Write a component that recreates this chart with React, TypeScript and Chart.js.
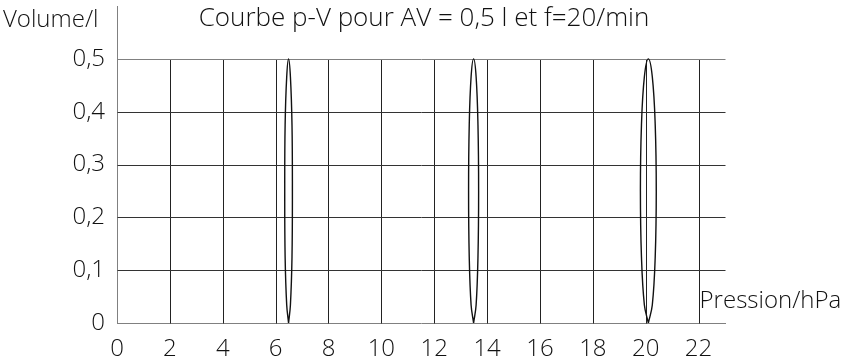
import React, { useEffect, useRef } from "react";
import { Chart, registerables } from "chart.js";

Chart.register(...registerables);

const titleText = "Courbe p-V pour AV = 0,5 l et f=20/min";
const yAxisTitle = "Volume/l";
const xAxisTitle = "Pression/hPa";

const xTicks = [0, 2, 4, 6, 8, 10, 12, 14, 16, 18, 20, 22];
const yTicks = [0, 0.1, 0.2, 0.3, 0.4, 0.5];
const yTickLabels = ["0", "0,1", "0,2", "0,3", "0,4", "0,5"];

const loop1Pressure = [6.49, 6.56, 6.62, 6.635, 6.62, 6.56, 6.49, 6.42, 6.36, 6.345, 6.36, 6.42, 6.49];
const loop1Volume = [0, 0.034, 0.125, 0.25, 0.375, 0.466, 0.5, 0.466, 0.375, 0.25, 0.125, 0.034, 0];

const loop2Pressure = [13.49, 13.585, 13.655, 13.68, 13.655, 13.585, 13.49, 13.395, 13.325, 13.3, 13.325, 13.395, 13.49];
const loop2Volume = [0, 0.034, 0.125, 0.25, 0.375, 0.466, 0.5, 0.466, 0.375, 0.25, 0.125, 0.034, 0];

const loop3Pressure = [20.1, 20.25, 20.36, 20.4, 20.36, 20.25, 20.1, 19.95, 19.84, 19.8, 19.84, 19.95, 20.1];
const loop3Volume = [0, 0.034, 0.125, 0.25, 0.375, 0.466, 0.5, 0.466, 0.375, 0.25, 0.125, 0.034, 0];

const FONT = "'Open Sans', 'DejaVu Sans', sans-serif";

const toPoints = (p: number[], v: number[]) => p.map((x, i) => ({ x, y: v[i] }));

const gridAndText = {
  id: "gridAndText",
  beforeDatasetsDraw(chart: any) {
    const { ctx, scales } = chart;
    const xs = scales.x;
    const ys = scales.y;
    ctx.save();
    ctx.lineWidth = 1;
    const yTop = Math.round(ys.getPixelForValue(0.5)) + 0.5;
    const yBot = Math.round(ys.getPixelForValue(0)) + 0.5;
    const xL = Math.round(xs.getPixelForValue(0)) + 0.5;
    const xR = Math.round(xs.getPixelForValue(23)) + 0.5;
    xTicks.forEach((t) => {
      if (t === 0) return;
      const px = Math.round(xs.getPixelForValue(t)) + 0.5;
      ctx.strokeStyle = "#222";
      ctx.beginPath();
      ctx.moveTo(px, yTop);
      ctx.lineTo(px, yBot);
      ctx.stroke();
    });
    yTicks.forEach((t) => {
      if (t === 0) return;
      const py = Math.round(ys.getPixelForValue(t)) + 0.5;
      ctx.strokeStyle = t === 0.5 ? "#808080" : "#333";
      ctx.beginPath();
      ctx.moveTo(xL, py);
      ctx.lineTo(xR, py);
      ctx.stroke();
    });
    ctx.restore();
  },
  afterDraw(chart: any) {
    const { ctx, scales } = chart;
    ctx.save();
    ctx.fillStyle = "#111";
    ctx.textBaseline = "middle";
    ctx.font = `300 26px ${FONT}`;
    ctx.textAlign = "center";
    ctx.fillText(titleText, 424, 19);
    ctx.textAlign = "left";
    ctx.font = `300 24px ${FONT}`;
    ctx.fillText(yAxisTitle, 3, 20);
    const px = scales.x.getPixelForValue(22) + 1;
    ctx.fillText(xAxisTitle, px, 301);
    ctx.restore();
  },
};

export default function App() {
  const ref = useRef<HTMLCanvasElement | null>(null);
  useEffect(() => {
    if (!ref.current) return;
    const lineStyle = {
      showLine: true,
      borderColor: "#111",
      borderWidth: 1.4,
      pointRadius: 0,
      tension: 0.4,
      fill: false,
    };
    const chart = new Chart(ref.current, {
      type: "scatter",
      data: {
        datasets: [
          { label: "loop1", data: toPoints(loop1Pressure, loop1Volume), ...lineStyle },
          { label: "loop2", data: toPoints(loop2Pressure, loop2Volume), ...lineStyle },
          { label: "loop3", data: toPoints(loop3Pressure, loop3Volume), ...lineStyle },
        ],
      },
      options: {
        animation: false,
        responsive: false,
        maintainAspectRatio: false,
        layout: { padding: { top: 6, right: 124, bottom: 0, left: 0 } },
        plugins: { legend: { display: false }, tooltip: { enabled: false }, title: { display: false } },
        scales: {
          x: {
            type: "linear",
            min: 0,
            max: 23,
            afterBuildTicks: (scale: any) => {
              scale.ticks = xTicks.map((v) => ({ value: v }));
            },
            afterFit: (scale: any) => {
              scale.height = 38;
              scale.paddingLeft = 0;
              scale.paddingRight = 0;
            },
            grid: { display: false },
            border: { display: true, color: "#808080", width: 1 },
            ticks: {
              padding: 4,
              color: "#111",
              font: { family: FONT, size: 24, weight: "300" },
              maxRotation: 0,
              autoSkip: false,
              callback: (v: any) => String(v),
            },
          },
          y: {
            type: "linear",
            min: 0,
            max: 0.6,
            afterBuildTicks: (scale: any) => {
              scale.ticks = yTicks.map((v) => ({ value: v }));
            },
            afterFit: (scale: any) => {
              scale.width = 117;
              scale.paddingTop = 0;
              scale.paddingBottom = 0;
            },
            grid: { display: false },
            border: { display: true, color: "#808080", width: 1 },
            ticks: {
              padding: 4,
              color: "#111",
              font: { family: FONT, size: 24, weight: "300" },
              callback: (v: any) => {
                const i = yTicks.findIndex((t) => Math.abs(t - v) < 1e-9);
                return i >= 0 ? yTickLabels[i] : "";
              },
            },
          },
        },
      },
      plugins: [gridAndText],
    } as any);
    return () => chart.destroy();
  }, []);
  return (
    <div style={{ position: "fixed", left: 0, top: 0, width: 849, height: 361, background: "#fff" }}>
      <canvas ref={ref} width={849} height={361} style={{ width: 849, height: 361, display: "block" }} />
    </div>
  );
}
